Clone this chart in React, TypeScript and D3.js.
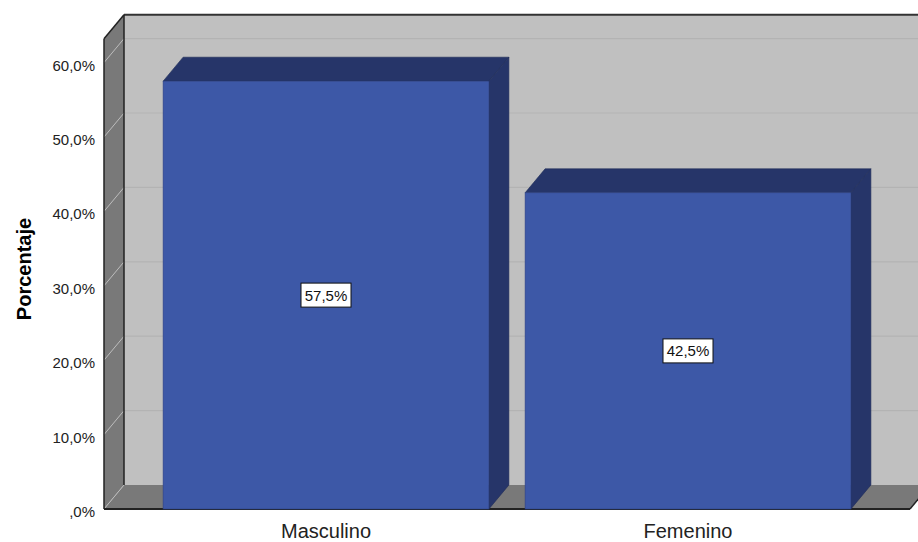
import React from "react";
import * as d3 from "d3";

// Gender distribution, percentage of respondents
const categories: string[] = ["Masculino", "Femenino"];
const percentages: number[] = [57.5, 42.5];
const yTicks: number[] = [0, 10, 20, 30, 40, 50, 60];
const yTitle = "Porcentaje";

const W = 918;
const H = 542;
// 3D depth offset of the box
const DX = 20;
const DY = -24;

const FONT = "'Liberation Sans', Arial, Helvetica, sans-serif";

const fmtPct = (v: number) => {
  const s = d3.format(".1f")(v).replace(".", ",");
  return (s.startsWith("0,") ? s.slice(1) : s) + "%";
};

export default function App() {
  // front-plane scales
  const y = d3.scaleLinear().domain([0, 60]).range([509, 62.6]);
  const wallMax = 63.2;
  const x = d3
    .scaleBand<string>()
    .domain(categories)
    .range([145, 869])
    .paddingInner(0.1)
    .paddingOuter(0.05);

  const frontLeft = 104;
  const frontRight = 910;
  const y0 = y(0);
  const yTop = y(wallMax);

  const wallFill = "#c0c0c0";
  const sideFill = "#797979";
  const gridColor = "#b3b3b3";
  const barFront = "#3d58a7";
  const barDark = "#263569";

  const pts = (arr: [number, number][]) => arr.map((p) => p.join(",")).join(" ");

  return (
    <svg
      width={W}
      height={H}
      style={{ position: "absolute", left: 0, top: 0, background: "#fff" }}
      fontFamily={FONT}
    >
      {/* back wall */}
      <rect
        x={frontLeft + DX}
        y={yTop + DY}
        width={frontRight - frontLeft + 10}
        height={y0 - yTop}
        fill={wallFill}
      />
      {/* left wall */}
      <polygon
        points={pts([
          [frontLeft, yTop],
          [frontLeft + DX, yTop + DY],
          [frontLeft + DX, y0 + DY],
          [frontLeft, y0],
        ])}
        fill={sideFill}
      />
      {/* floor */}
      <polygon
        points={pts([
          [frontLeft, y0],
          [frontLeft + DX, y0 + DY],
          [frontRight + DX, y0 + DY],
          [frontRight, y0],
        ])}
        fill={sideFill}
      />
      {/* grid lines on back wall and left wall */}
      {yTicks.map((t) => (
        <g key={t}>
          {t > 0 && (
            <line
              x1={frontLeft + DX}
              x2={W + 20}
              y1={y(t) + DY}
              y2={y(t) + DY}
              stroke={gridColor}
              strokeWidth={1.2}
            />
          )}
          <line
            x1={frontLeft}
            y1={y(t)}
            x2={frontLeft + DX}
            y2={y(t) + DY}
            stroke="#bdbdbd"
            strokeWidth={1}
          />
        </g>
      ))}
      {/* box edges */}
      <line
        x1={frontLeft + DX}
        x2={W + 20}
        y1={yTop + DY}
        y2={yTop + DY}
        stroke="#333"
        strokeWidth={2}
      />
      <line
        x1={frontLeft + DX}
        x2={frontLeft + DX}
        y1={yTop + DY}
        y2={y0 + DY}
        stroke="#222"
        strokeWidth={1.5}
      />
      <line x1={frontLeft} x2={frontLeft} y1={yTop} y2={y0} stroke="#222" strokeWidth={1.5} />
      <line
        x1={frontLeft}
        y1={yTop}
        x2={frontLeft + DX}
        y2={yTop + DY}
        stroke="#222"
        strokeWidth={1.5}
      />
      <line x1={frontLeft} x2={frontRight} y1={y0} y2={y0} stroke="#222" strokeWidth={2} />
      <line
        x1={frontRight}
        y1={y0}
        x2={frontRight + DX}
        y2={y0 + DY}
        stroke="#222"
        strokeWidth={1.5}
      />

      {/* bars */}
      {categories.map((c, i) => {
        const bx = x(c)!;
        const bw = x.bandwidth();
        const top = y(percentages[i]);
        return (
          <g key={c}>
            <polygon
              points={pts([
                [bx, top],
                [bx + DX, top + DY],
                [bx + bw + DX, top + DY],
                [bx + bw, top],
              ])}
              fill={barDark}
              stroke="#1f2c58"
              strokeWidth={0.6}
            />
            <polygon
              points={pts([
                [bx + bw, top],
                [bx + bw + DX, top + DY],
                [bx + bw + DX, y0 + DY],
                [bx + bw, y0],
              ])}
              fill={barDark}
              stroke="#1f2c58"
              strokeWidth={0.6}
            />
            <rect
              x={bx}
              y={top}
              width={bw}
              height={y0 - top}
              fill={barFront}
              stroke="#2d4385"
              strokeWidth={0.6}
            />
          </g>
        );
      })}

      {/* value labels */}
      {categories.map((c, i) => {
        const cx = x(c)! + x.bandwidth() / 2;
        const cy = (y(percentages[i]) + y0) / 2;
        return (
          <g key={c + "-lbl"}>
            <rect
              x={cx - 25}
              y={cy - 12}
              width={50}
              height={24}
              fill="#fff"
              stroke="#111"
              strokeWidth={1}
            />
            <text
              x={cx}
              y={cy + 5.5}
              textAnchor="middle"
              fontSize={15}
              fill="#111"
            >
              {fmtPct(percentages[i])}
            </text>
          </g>
        );
      })}

      {/* y tick labels */}
      {yTicks.map((t) => (
        <text
          key={"t" + t}
          x={95}
          y={y(t) + 8}
          textAnchor="end"
          fontSize={15}
          fill="#222"
        >
          {fmtPct(t)}
        </text>
      ))}

      {/* y axis title */}
      <text
        transform={`translate(31,269) rotate(-90)`}
        textAnchor="middle"
        fontSize={20}
        fontWeight="bold"
        fill="#000"
      >
        {yTitle}
      </text>

      {/* category labels */}
      {categories.map((c) => (
        <text
          key={c + "-x"}
          x={x(c)! + x.bandwidth() / 2}
          y={538}
          textAnchor="middle"
          fontSize={20}
          fill="#222"
        >
          {c}
        </text>
      ))}
    </svg>
  );
}
